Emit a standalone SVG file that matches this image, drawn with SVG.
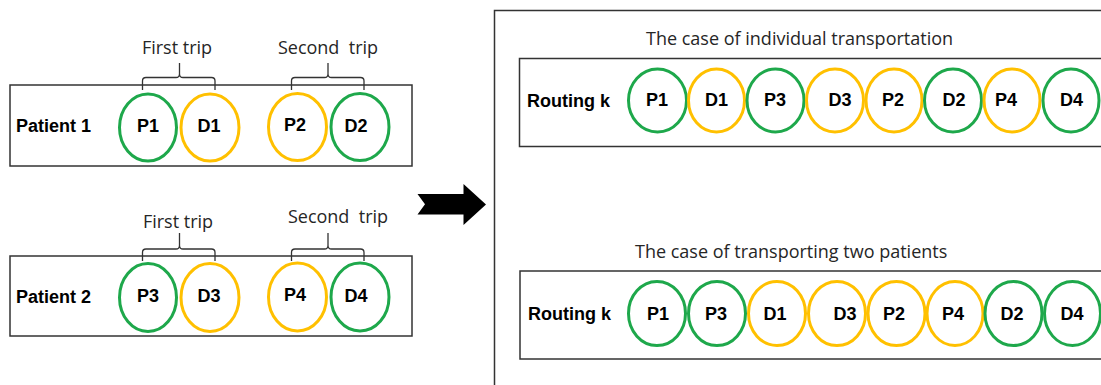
<svg xmlns="http://www.w3.org/2000/svg" width="1101" height="385" viewBox="0 0 1101 385">
<style>
.box{fill:none;stroke:#333;stroke-width:1.5}
.g{fill:none;stroke:#1ea84b;stroke-width:3}
.y{fill:none;stroke:#ffc000;stroke-width:3}
.lbl{font-family:"Liberation Sans",Arial,sans-serif;font-weight:bold;font-size:18px;fill:#000;text-anchor:middle}
.hdr{font-family:"Liberation Sans",Arial,sans-serif;font-weight:bold;font-size:18px;fill:#000}
.cap{font-family:"Open Sans","Liberation Sans",Arial,sans-serif;font-size:18px;fill:#262626}
.br{fill:none;stroke:#333;stroke-width:1.3}
</style>
<rect width="1101" height="385" fill="#fff"/>

<g id="patient1">
<rect class="box" x="10" y="85" width="402" height="81"/>
<text class="hdr" x="16" y="132">Patient 1</text>
<ellipse class="g" cx="148" cy="127.5" rx="28.5" ry="33.5"/>
<ellipse class="y" cx="210" cy="127.5" rx="29" ry="33.5"/>
<ellipse class="y" cx="297.5" cy="127" rx="29" ry="33.5"/>
<ellipse class="g" cx="360" cy="127" rx="29" ry="33.5"/>
<text class="lbl" x="148" y="132">P1</text>
<text class="lbl" x="209" y="132">D1</text>
<text class="lbl" x="295" y="131">P2</text>
<text class="lbl" x="356" y="132">D2</text>
<text class="cap" x="177" y="54" text-anchor="middle">First trip</text>
<text class="cap" x="328" y="54" text-anchor="middle" xml:space="preserve">Second  trip</text>
<path class="br" d="M142.5,90 V81 Q142.5,77.5 146,77.5 H176 Q179.5,77.5 179.5,74 V63 M179.5,74 Q179.5,77.5 183,77.5 H211.5 Q215,77.5 215,81 V90"/>
<path class="br" d="M291.5,90 V81 Q291.5,77.5 295,77.5 H324.5 Q328,77.5 328,74 V63 M328,74 Q328,77.5 331.5,77.5 H360.5 Q364,77.5 364,81 V90"/>
</g>

<g id="patient2">
<rect class="box" x="10" y="256" width="402" height="80"/>
<text class="hdr" x="16" y="303">Patient 2</text>
<ellipse class="g" cx="148" cy="297.5" rx="28.5" ry="34"/>
<ellipse class="y" cx="210" cy="297.5" rx="29" ry="34"/>
<ellipse class="y" cx="297.5" cy="297" rx="29" ry="34"/>
<ellipse class="g" cx="360" cy="297" rx="29" ry="34"/>
<text class="lbl" x="148" y="302">P3</text>
<text class="lbl" x="209" y="302">D3</text>
<text class="lbl" x="295" y="301">P4</text>
<text class="lbl" x="356" y="302">D4</text>
<text class="cap" x="178" y="228" text-anchor="middle">First trip</text>
<text class="cap" x="338" y="222.5" text-anchor="middle" xml:space="preserve">Second  trip</text>
<path class="br" d="M142.5,261 V252.5 Q142.5,249 146,249 H176 Q179.5,249 179.5,245.5 V233 M179.5,245.5 Q179.5,249 183,249 H211.5 Q215,249 215,252.5 V261"/>
<path class="br" d="M291.5,261 V252.5 Q291.5,249 295,249 H324.5 Q328,249 328,245.5 V233 M328,245.5 Q328,249 331.5,249 H360.5 Q364,249 364,252.5 V261"/>
</g>

<g id="connectors">
<path d="M417.5,194 H463.5 V184 L486,204.5 L463.5,225 V214.5 H417.5 L425,204.3 Z" fill="#000"/>
</g>

<g id="result">
<rect class="box" x="494.5" y="10.5" width="700" height="500"/>
</g>

<g id="individual">
<text class="cap" x="646" y="45">The case of individual transportation</text>
<rect class="box" x="519.5" y="58.5" width="700" height="88"/>
<text class="hdr" x="527" y="107">Routing k</text>
<ellipse class="g" cx="657.5" cy="100.5" rx="29" ry="31.5"/>
<ellipse class="y" cx="716.5" cy="100.5" rx="28" ry="31.5"/>
<ellipse class="g" cx="775.5" cy="100.5" rx="28.5" ry="31.5"/>
<ellipse class="y" cx="835" cy="100.5" rx="28.5" ry="31.5"/>
<ellipse class="y" cx="894" cy="100.5" rx="28" ry="31.5"/>
<ellipse class="g" cx="953" cy="100.5" rx="28.5" ry="31.5"/>
<ellipse class="y" cx="1012" cy="100.5" rx="28" ry="31.5"/>
<ellipse class="g" cx="1071" cy="100.5" rx="28" ry="31.5"/>
<text class="lbl" x="657" y="106">P1</text>
<text class="lbl" x="716.5" y="106">D1</text>
<text class="lbl" x="775" y="106">P3</text>
<text class="lbl" x="840" y="106">D3</text>
<text class="lbl" x="893" y="106">P2</text>
<text class="lbl" x="954" y="106">D2</text>
<text class="lbl" x="1006" y="106">P4</text>
<text class="lbl" x="1071.5" y="106">D4</text>
</g>

<g id="two-patients">
<text class="cap" x="635" y="257.5">The case of transporting two patients</text>
<rect class="box" x="520" y="271" width="700" height="88"/>
<text class="hdr" x="528" y="320">Routing k</text>
<ellipse class="g" cx="657" cy="313.5" rx="28.5" ry="32"/>
<ellipse class="g" cx="717" cy="313.5" rx="28.5" ry="32"/>
<ellipse class="y" cx="777" cy="313.5" rx="28.5" ry="32"/>
<ellipse class="y" cx="837" cy="313.5" rx="28.5" ry="32"/>
<ellipse class="y" cx="896.5" cy="313.5" rx="28.5" ry="32"/>
<ellipse class="y" cx="955" cy="313.5" rx="28" ry="32"/>
<ellipse class="g" cx="1013.5" cy="313.5" rx="28.5" ry="32"/>
<ellipse class="g" cx="1072.5" cy="313.5" rx="28" ry="32"/>
<text class="lbl" x="658" y="320">P1</text>
<text class="lbl" x="716" y="320">P3</text>
<text class="lbl" x="775" y="320">D1</text>
<text class="lbl" x="845" y="320">D3</text>
<text class="lbl" x="894" y="320">P2</text>
<text class="lbl" x="953" y="320">P4</text>
<text class="lbl" x="1012" y="320">D2</text>
<text class="lbl" x="1072" y="320">D4</text>
</g>
</svg>
